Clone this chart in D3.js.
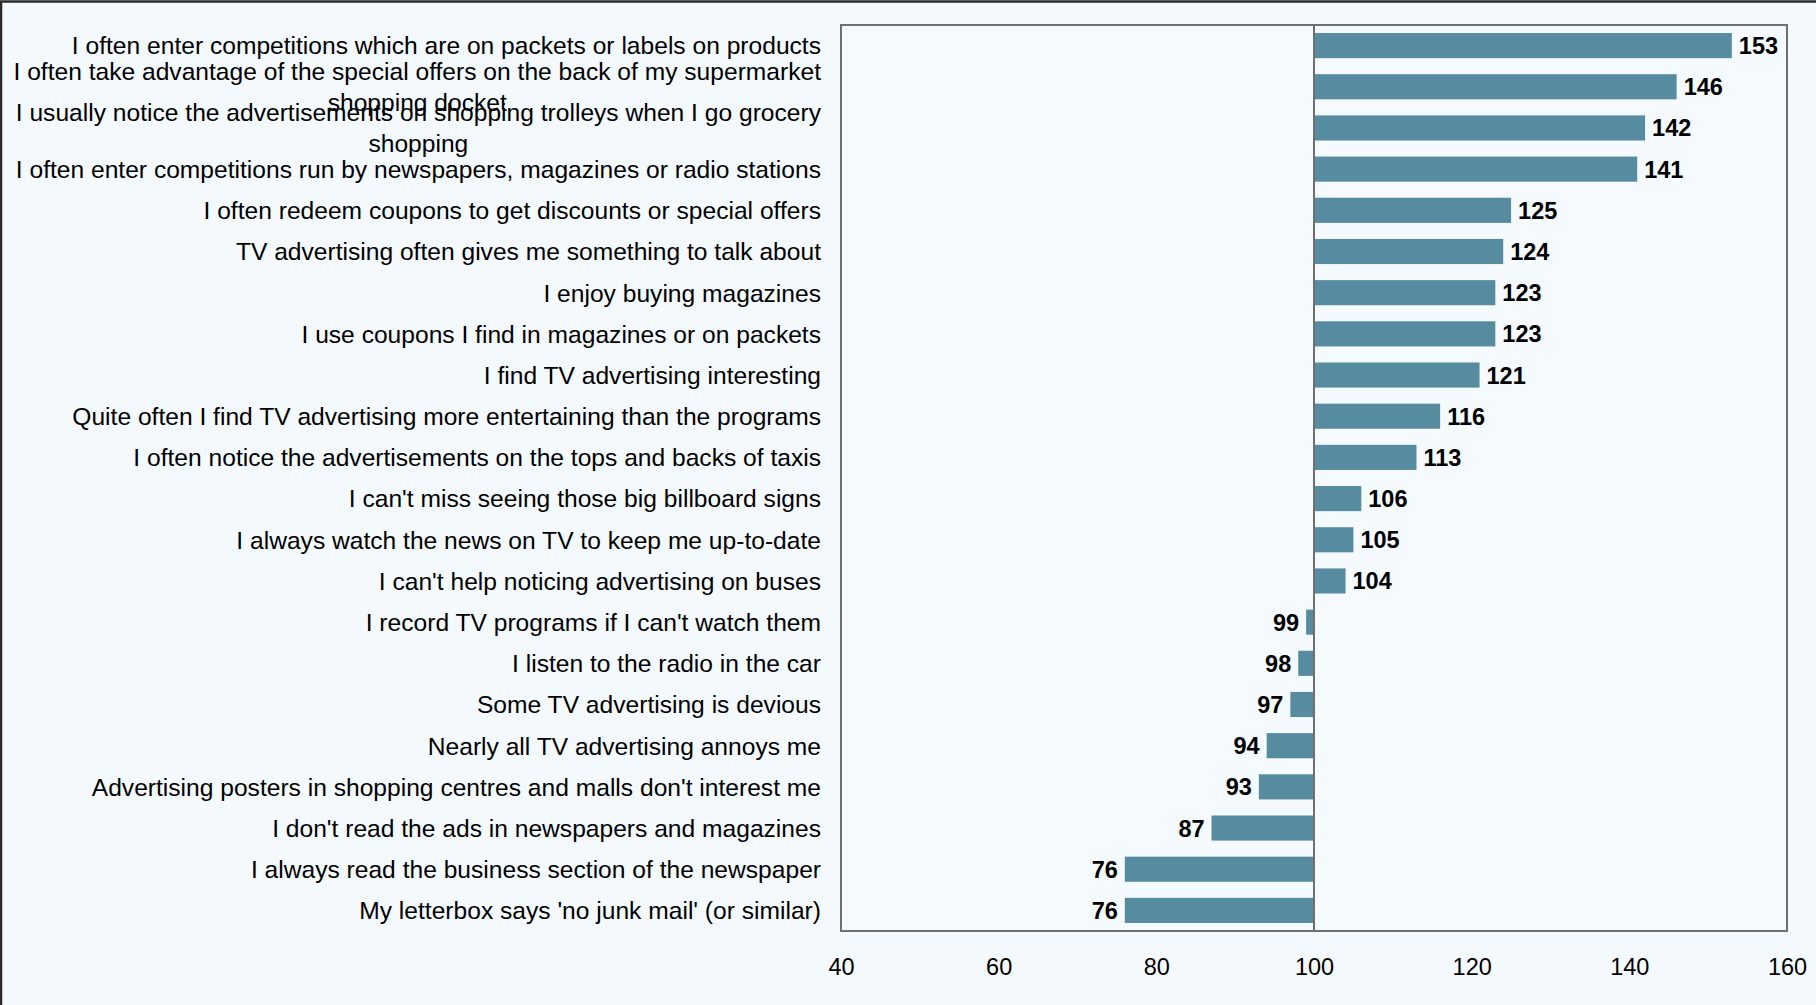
<!DOCTYPE html>
<html>
<head>
<meta charset="utf-8">
<script src="https://cdn.jsdelivr.net/npm/d3@7"></script>
<style>
  html, body { margin: 0; padding: 0; background: #F4F9FD; }
  svg { display: block; }
  text { font-family: "Liberation Sans", Arial, sans-serif; fill: #000; }
</style>
</head>
<body>
<svg id="chart" width="1816" height="1005"></svg>
<script>
const categories = [
  "I often enter competitions which are on packets or labels on products",
  "I often take advantage of the special offers on the back of my supermarket shopping docket",
  "I usually notice the advertisements on shopping trolleys when I go grocery shopping",
  "I often enter competitions run by newspapers, magazines or radio stations",
  "I often redeem coupons to get discounts or special offers",
  "TV advertising often gives me something to talk about",
  "I enjoy buying magazines",
  "I use coupons I find in magazines or on packets",
  "I find TV advertising interesting",
  "Quite often I find TV advertising more entertaining than the programs",
  "I often notice the advertisements on the tops and backs of taxis",
  "I can't miss seeing those big billboard signs",
  "I always watch the news on TV to keep me up-to-date",
  "I can't help noticing advertising on buses",
  "I record TV programs if I can't watch them",
  "I listen to the radio in the car",
  "Some TV advertising is devious",
  "Nearly all TV advertising annoys me",
  "Advertising posters in shopping centres and malls don't interest me",
  "I don't read the ads in newspapers and magazines",
  "I always read the business section of the newspaper",
  "My letterbox says 'no junk mail' (or similar)"
];
const values = [153, 146, 142, 141, 125, 124, 123, 123, 121, 116, 113, 106, 105, 104, 99, 98, 97, 94, 93, 87, 76, 76];
const xTicks = [40, 60, 80, 100, 120, 140, 160];
const baseline = 100;

const svg = d3.select("#chart");
const W = 1816, H = 1005;
const plot = { left: 841, right: 1787, top: 25, bottom: 931 };

// outer frame (only top/left visible)
svg.append("rect").attr("x", 1).attr("y", 1.5).attr("width", W + 10).attr("height", H + 10)
  .attr("fill", "#F4F9FD").attr("stroke", "#2a2a2a").attr("stroke-width", 2.5);

const x = d3.scaleLinear().domain([40, 160]).range([plot.left, plot.right]);
const y = d3.scaleBand().domain(categories).range([plot.top, plot.bottom]).padding(0);
const barH = y.bandwidth() * 0.61;

// plot area
svg.append("rect").attr("x", plot.left).attr("y", plot.top)
  .attr("width", plot.right - plot.left).attr("height", plot.bottom - plot.top)
  .attr("fill", "#F5FAFE").attr("stroke", "#6f6f6f").attr("stroke-width", 2);

// bars
svg.append("g").selectAll("rect").data(values).join("rect")
  .attr("x", (d) => x(Math.min(d, baseline)))
  .attr("width", (d) => Math.abs(x(d) - x(baseline)))
  .attr("y", (d, i) => y(categories[i]) + (y.bandwidth() - barH) / 2)
  .attr("height", barH)
  .attr("fill", "#578B9F");

// baseline line
svg.append("line").attr("x1", x(baseline)).attr("x2", x(baseline))
  .attr("y1", plot.top).attr("y2", plot.bottom)
  .attr("stroke", "#6f6f6f").attr("stroke-width", 2);

// value labels
svg.append("g").selectAll("text").data(values).join("text")
  .attr("x", (d) => d >= baseline ? x(d) + 7 : x(d) - 7)
  .attr("y", (d, i) => y(categories[i]) + y.bandwidth() / 2)
  .attr("dy", "0.36em")
  .attr("text-anchor", (d) => d >= baseline ? "start" : "end")
  .style("font-size", "23.5px").style("font-weight", "bold")
  .text((d) => d);

// x axis tick labels
const xAxis = d3.axisBottom(x).tickValues(xTicks).tickSize(0).tickPadding(0).tickFormat(d3.format("d"));
const gx = svg.append("g").attr("transform", `translate(0, 967)`).call(xAxis);
gx.select(".domain").remove();
gx.selectAll("text").attr("y", 0).attr("dy", "0.36em")
  .style("font-size", "23.5px").style("font-family", '"Liberation Sans", Arial, sans-serif').attr("fill", "#000");

// category labels with wrapping (block right-aligned, lines centred within block)
const labelX = plot.left - 20;
const maxW = 830;
const lineH = 31;
const gl = svg.append("g");
categories.forEach((c, i) => {
  const t = gl.append("text").style("font-size", "24.6px");
  const words = c.split(" ");
  const lines = [];
  let cur = [];
  const probe = t.append("tspan");
  const measure = (s) => { probe.text(s); return probe.node().getComputedTextLength(); };
  words.forEach((w) => {
    cur.push(w);
    if (measure(cur.join(" ")) > maxW && cur.length > 1) {
      cur.pop();
      lines.push(cur.join(" "));
      cur = [w];
    }
  });
  lines.push(cur.join(" "));
  const widest = d3.max(lines, (ln) => measure(ln));
  probe.remove();
  const cx = labelX - widest / 2;
  t.attr("text-anchor", "middle");
  const cy = y(c) + y.bandwidth() / 2;
  const y0 = cy - (lines.length - 1) * lineH / 2;
  lines.forEach((ln, k) => {
    t.append("tspan").attr("x", cx).attr("y", y0 + k * lineH).attr("dy", "0.36em").text(ln);
  });
});
</script>
</body>
</html>
